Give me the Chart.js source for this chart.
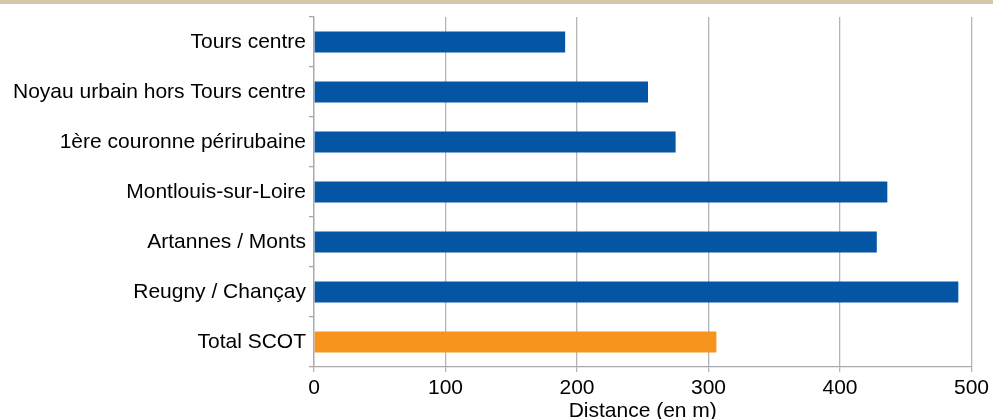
<!DOCTYPE html>
<html>
<head>
<meta charset="utf-8">
<script src="https://cdn.jsdelivr.net/npm/chart.js@4"></script>
<style>
  html, body { margin: 0; padding: 0; background: #fff; }
  #wrap { position: relative; width: 993px; height: 419px; }
  #band { position: absolute; left: 0; top: 0; width: 993px; height: 4px; background: #d3c7a6; }
</style>
</head>
<body>
<div id="wrap">
  <div id="band"></div>
  <canvas id="distChart" width="993" height="419"></canvas>
</div>
<script>
// Distances moyennes par secteur
const secteurs = ['Tours centre', 'Noyau urbain hors Tours centre', '1ère couronne périrubaine',
    'Montlouis-sur-Loire', 'Artannes / Monts', 'Reugny / Chançay', 'Total SCOT'];
const distances = [191, 254, 275, 436, 428, 490, 306];
const couleurs = ['#0455a4', '#0455a4', '#0455a4', '#0455a4', '#0455a4', '#0455a4', '#f7941e'];
const graduations = [0, 100, 200, 300, 400, 500];

const police = { family: 'Liberation Sans, Arial, sans-serif', size: 21 };

const config = {
    type: 'bar',
    data: {
        labels: secteurs,
        datasets: [{
            label: 'Distance',
            data: distances,
            backgroundColor: couleurs,
            borderWidth: 0,
            categoryPercentage: 1,
            barPercentage: 0.42
        }]
    },
    options: {
        indexAxis: 'y',
        responsive: false,
        animation: false,
        layout: { padding: { top: 17, right: 21, left: 0, bottom: 0 } },
        plugins: {
            legend: { display: false },
            tooltip: { enabled: false }
        },
        scales: {
            x: {
                min: 0,
                max: 500,
                afterBuildTicks: function(scale) {
                    scale.ticks = graduations.map(v => ({ value: v }));
                },
                afterFit: function(scale) { scale.height = 52; },
                grid: { color: '#b4b4bb', lineWidth: 1.3, tickLength: 5, drawTicks: true },
                border: { color: '#a8a8ae', width: 1.3 },
                ticks: { color: '#000', font: police, padding: 4, maxRotation: 0 },
                title: {
                    display: true,
                    text: 'Distance (en m)',
                    color: '#000',
                    font: { family: police.family, size: 21, lineHeight: 1 },
                    padding: { top: -3, bottom: -3 }
                }
            },
            y: {
                afterFit: function(scale) { scale.width = 314; },
                grid: { drawOnChartArea: false, offset: true, tickLength: 5, color: '#a8a8ae', lineWidth: 1.3 },
                border: { color: '#a8a8ae', width: 1.3 },
                ticks: { color: '#000', font: police, padding: 3, autoSkip: false }
            }
        }
    }
};

const ctx = document.getElementById('distChart').getContext('2d');
const distChart = new Chart(ctx, config);
</script>
</body>
</html>
